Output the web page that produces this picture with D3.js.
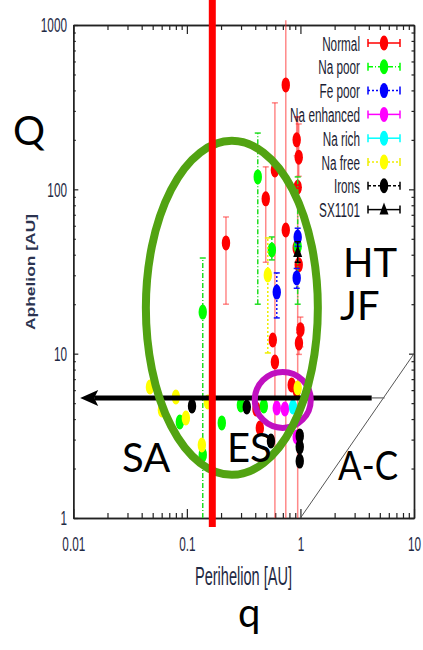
<!DOCTYPE html>
<html>
<head>
<meta charset="utf-8">
<script src="https://cdn.jsdelivr.net/npm/d3@7"></script>
<style>
  html, body { margin: 0; padding: 0; background: #fff; }
  svg { display: block; }
</style>
</head>
<body>
<svg id="chart" width="423" height="650"></svg>
<script>
// ---- orbital data: perihelion q [AU], aphelion Q [AU], Q error range (null = no bar)
const normalPeri  = [0.743, 0.221, 0.495, 0.596, 0.743, 0.927, 0.966, 0.946, 0.927, 0.966, 1.0, 0.97, 0.571, 0.596, 0.838, 0.927, 0.41, 0.439];
const normalAph   = [432, 47.2, 87.5, 131, 56.6, 200, 157, 103, 44, 34.7, 14.0, 11.6, 12.1, 8.9, 6.45, 6.0, 4.6, 3.53];
const normalAphLo = [1, 20, 36, 1, null, 160, 120, 1, null, null, 11.0, 9.9, null, null, null, null, null, null];
const normalAphHi = [1070, 67.9, 137, 336, null, 276, 250, 276, null, null, 16.7, 13.4, null, null, null, null, null, null];

const naPoorPeri  = [0.138, 0.421, 0.560, 0.946, 0.299, 0.476, 0.203, 0.0867, 0.138];
const naPoorAph   = [17.9, 119, 42.8, 45, 4.87, 4.8, 3.79, 3.84, 2.42];
const naPoorAphLo = [1, 20, 37.2, 20, null, null, null, null, null];
const naPoorAphHi = [38.2, 220, 51.3, 119, null, null, null, null, null];

const fePoorPeri  = [0.619, 0.946, 0.927];
const fePoorAph   = [23.7, 51.3, 28.9];
const fePoorAphLo = [16.5, 45, 25];
const fePoorAphHi = [31, 58, 33];

const naEnhPeri = [0.619, 0.73, 0.927];
const naEnhAph  = [4.67, 4.61, 3.11];

const naRichPeri = [0.86];
const naRichAph  = [4.74];

const naFreePeri  = [0.0473, 0.080, 0.0603, 0.098, 0.1355, 0.153, 0.516, 0.946];
const naFreeAph   = [6.27, 5.45, 4.54, 4.06, 2.78, 5.08, 30.1, 6.18];
const naFreeAphLo = [null, null, null, null, null, null, 10.1, null];
const naFreeAphHi = [null, null, null, null, null, null, 50.6, null];

const ironsPeri = [0.111, 0.337, 0.55, 0.986, 0.986, 0.986];
const ironsAph  = [4.8, 4.74, 2.94, 3.16, 2.71, 2.22];

const sxPeri  = [0.946];
const sxAph   = [41.6];
const sxAphLo = [36];
const sxAphHi = [48];

const legendLabels = ["Normal", "Na poor", "Fe poor", "Na enhanced", "Na rich", "Na free", "Irons", "SX1101"];
const xTickLabels = ["0.01", "0.1", "1", "10"];
const yTickLabels = ["1", "10", "100", "1000"];

// ---- overlay annotations (data coordinates)
const innerEdgeQ = 0.1675;              // thick red perihelion cut
const arrowAph = 5.38, arrowFrom = 4.24, arrowTo = 0.0115, arrowTail = 5.5;
const esCenter = [0.699, 5.23];          // magenta ring
const popCenter = [0.249, 19.0];         // green ellipse

// ---- drawing
const svg = d3.select("#chart");
const x = d3.scaleLog().domain([0.01, 10]).range([73.3, 414]);
const y = d3.scaleLog().domain([1, 1000]).range([518, 25]);

const squish = 0.56;
const chartFont = "'Liberation Sans', Arial, sans-serif";
const inkCol = "#1f2a44";

const xMajor = [0.01, 0.1, 1, 10];
const yMajor = [1, 10, 100, 1000];
const xMinor = x.ticks().filter(v => !xMajor.some(m => Math.abs(m - v) / m < 1e-6));
const yMinor = y.ticks().filter(v => !yMajor.some(m => Math.abs(m - v) / m < 1e-6));

function styleAxis(g) {
  g.attr("font-family", chartFont).attr("font-size", 21);
  g.selectAll(".domain").attr("stroke", "#222").attr("stroke-width", 1.4);
  g.selectAll(".tick line").attr("stroke", "#222").attr("stroke-width", 1.2);
  g.selectAll("text").attr("fill", inkCol).attr("transform", `scale(${squish},1)`);
}

// bottom
svg.append("g").attr("transform", "translate(0,518)")
  .call(d3.axisBottom(x).tickValues(xMajor).tickFormat((d, i) => xTickLabels[i]).tickSizeInner(-9).tickSizeOuter(0).tickPadding(17.6))
  .call(styleAxis);
svg.append("g").attr("transform", "translate(0,518)")
  .call(d3.axisBottom(x).tickValues(xMinor).tickFormat("").tickSizeInner(-5).tickSizeOuter(0))
  .call(styleAxis);
// top
svg.append("g").attr("transform", "translate(0,25)")
  .call(d3.axisTop(x).tickValues(xMajor).tickFormat("").tickSizeInner(-9).tickSizeOuter(0))
  .call(styleAxis);
svg.append("g").attr("transform", "translate(0,25)")
  .call(d3.axisTop(x).tickValues(xMinor).tickFormat("").tickSizeInner(-5).tickSizeOuter(0))
  .call(styleAxis);
// left
svg.append("g").attr("transform", "translate(73.3,0)")
  .call(d3.axisLeft(y).tickValues(yMajor).tickFormat((d, i) => yTickLabels[i]).tickSizeInner(-5).tickSizeOuter(0).tickPadding(11.3))
  .call(styleAxis);
svg.append("g").attr("transform", "translate(73.3,0)")
  .call(d3.axisLeft(y).tickValues(yMinor).tickFormat("").tickSizeInner(-2.5).tickSizeOuter(0))
  .call(styleAxis);
// right
svg.append("g").attr("transform", "translate(414,0)")
  .call(d3.axisRight(y).tickValues(yMajor).tickFormat("").tickSizeInner(-5).tickSizeOuter(0))
  .call(styleAxis);
svg.append("g").attr("transform", "translate(414,0)")
  .call(d3.axisRight(y).tickValues(yMinor).tickFormat("").tickSizeInner(-2.5).tickSizeOuter(0))
  .call(styleAxis);

// axis titles
svg.append("text")
  .attr("transform", `translate(243.5,585) scale(${squish},1)`)
  .attr("text-anchor", "middle").attr("font-family", chartFont).attr("font-size", 26)
  .attr("fill", inkCol).text("Perihelion [AU]");
svg.append("text")
  .attr("transform", `translate(35,272) scale(${squish},1) rotate(-90)`)
  .attr("text-anchor", "middle").attr("font-family", chartFont).attr("font-size", 22)
  .attr("textLength", 116).attr("lengthAdjust", "spacingAndGlyphs")
  .attr("font-weight", "bold").attr("fill", "#2b3350").text("Aphelion [AU]");

// series definitions
const series = [
  { name: legendLabels[0], q: normalPeri, Q: normalAph, lo: normalAphLo, hi: normalAphHi, color: "#ff0000", bar: "rgba(255,40,40,0.55)", dash: null, shape: "dot" },
  { name: legendLabels[1], q: naPoorPeri, Q: naPoorAph, lo: naPoorAphLo, hi: naPoorAphHi, color: "#00ff00", bar: "#22dd22", dash: "5,2,1,2", shape: "dot" },
  { name: legendLabels[2], q: fePoorPeri, Q: fePoorAph, lo: fePoorAphLo, hi: fePoorAphHi, color: "#0000ff", bar: "#1010ff", dash: "2,2", shape: "dot" },
  { name: legendLabels[3], q: naEnhPeri, Q: naEnhAph, lo: null, hi: null, color: "#ff00ff", bar: "#ff00ff", dash: null, shape: "dot" },
  { name: legendLabels[4], q: naRichPeri, Q: naRichAph, lo: null, hi: null, color: "#00ffff", bar: "#00ffff", dash: null, shape: "dot" },
  { name: legendLabels[5], q: naFreePeri, Q: naFreeAph, lo: naFreeAphLo, hi: naFreeAphHi, color: "#ffff00", bar: "#eeee00", dash: "2,2", shape: "dot" },
  { name: legendLabels[6], q: ironsPeri, Q: ironsAph, lo: null, hi: null, color: "#000000", bar: "#000000", dash: "3,2", shape: "dot" },
  { name: legendLabels[7], q: sxPeri, Q: sxAph, lo: sxAphLo, hi: sxAphHi, color: "#000000", bar: "#000000", dash: null, shape: "tri" }
];

const plot = svg.append("g");
const capHalf = 3;

function drawMarker(g, cx, cy, s) {
  if (s.shape === "tri") {
    g.append("path")
      .attr("d", `M${cx},${cy - 7}L${cx + 4.5},${cy + 5}L${cx - 4.5},${cy + 5}Z`)
      .attr("fill", s.color);
  } else {
    g.append("ellipse").attr("cx", cx).attr("cy", cy).attr("rx", 4.2).attr("ry", 7.5).attr("fill", s.color);
  }
}

series.forEach(s => {
  const g = plot.append("g");
  // error bars
  s.q.forEach((qv, i) => {
    if (!s.lo || s.lo[i] == null) return;
    const cx = x(qv), y1 = y(s.lo[i]), y2 = y(s.hi[i]);
    g.append("line").attr("x1", cx).attr("x2", cx).attr("y1", y1).attr("y2", y2)
      .attr("stroke", s.bar).attr("stroke-width", 1.5).attr("stroke-dasharray", s.dash);
    [[s.lo[i], y1], [s.hi[i], y2]].forEach(([v, yy]) => {
      if (v <= 1 || v >= 1000) return;
      g.append("line").attr("x1", cx - capHalf).attr("x2", cx + capHalf).attr("y1", yy).attr("y2", yy)
        .attr("stroke", s.bar).attr("stroke-width", 1.5);
    });
  });
  // points
  s.q.forEach((qv, i) => drawMarker(g, x(qv), y(s.Q[i]), s));
});

// legend
const legend = svg.append("g");
series.forEach((s, i) => {
  const cy = 43 + i * 23.8;
  legend.append("text")
    .attr("transform", `translate(360,${cy + 7.5}) scale(${squish},1)`)
    .attr("text-anchor", "end").attr("font-family", chartFont).attr("font-size", 21)
    .attr("fill", "#1b1d33").text(s.name);
  const lc = s.color === "#ffff00" ? "#eeee00" : s.color;
  legend.append("line").attr("x1", 368).attr("x2", 400).attr("y1", cy).attr("y2", cy)
    .attr("stroke", lc).attr("stroke-width", 1.5).attr("stroke-dasharray", s.dash);
  [368, 400].forEach(xx => legend.append("line").attr("x1", xx).attr("x2", xx).attr("y1", cy - 4).attr("y2", cy + 4)
    .attr("stroke", lc).attr("stroke-width", 1.5));
  drawMarker(legend, 384, cy, s);
});

// q = Q boundary
svg.append("line")
  .attr("x1", x(1)).attr("y1", y(1)).attr("x2", x(10)).attr("y2", y(10))
  .attr("stroke", "#555").attr("stroke-width", 1);

// ---- overlays
const ov = svg.append("g");
// arrow towards small perihelia
ov.append("line").attr("x1", x(arrowFrom)).attr("x2", x(arrowTail)).attr("y1", y(arrowAph)).attr("y2", y(arrowAph))
  .attr("stroke", "#666").attr("stroke-width", 1.2);
ov.append("line").attr("x1", x(arrowFrom)).attr("x2", x(arrowTo) + 14).attr("y1", y(arrowAph)).attr("y2", y(arrowAph))
  .attr("stroke", "#000").attr("stroke-width", 5);
{
  const tx = x(arrowTo), ty = y(arrowAph);
  ov.append("path").attr("d", `M${tx},${ty}L${tx + 18},${ty - 8}L${tx + 14},${ty}L${tx + 18},${ty + 8}Z`).attr("fill", "#000");
}
// ring around the ES cluster
ov.append("circle").attr("cx", x(esCenter[0])).attr("cy", y(esCenter[1])).attr("r", 28)
  .attr("fill", "none").attr("stroke", "#c010c0").attr("stroke-width", 6);
// population ellipse
ov.append("ellipse").attr("cx", x(popCenter[0])).attr("cy", y(popCenter[1])).attr("rx", 86).attr("ry", 167)
  .attr("fill", "none").attr("stroke", "#52a312").attr("stroke-width", 8);
// perihelion cut
ov.append("line").attr("x1", x(innerEdgeQ)).attr("x2", x(innerEdgeQ)).attr("y1", 0).attr("y2", 527)
  .attr("stroke", "#ff0000").attr("stroke-width", 7);

// region labels
const labFont = "Lato, 'Open Sans', sans-serif";
const labels = [
  ["Q", 13, 145, null], ["q", 238, 627, null], ["HT", 343, 277, null], ["JF", 340, 320, null],
  ["SA", 122, 472, null], ["ES", 227, 462, null], ["A-C", 338, 480, 60]
];
labels.forEach(([t, lx, ly, len]) => {
  const el = ov.append("text").attr("x", lx).attr("y", ly).attr("font-family", labFont).attr("font-size", 40)
    .attr("fill", "#000").text(t);
  if (len) el.attr("textLength", len).attr("lengthAdjust", "spacingAndGlyphs");
});
</script>
</body>
</html>
